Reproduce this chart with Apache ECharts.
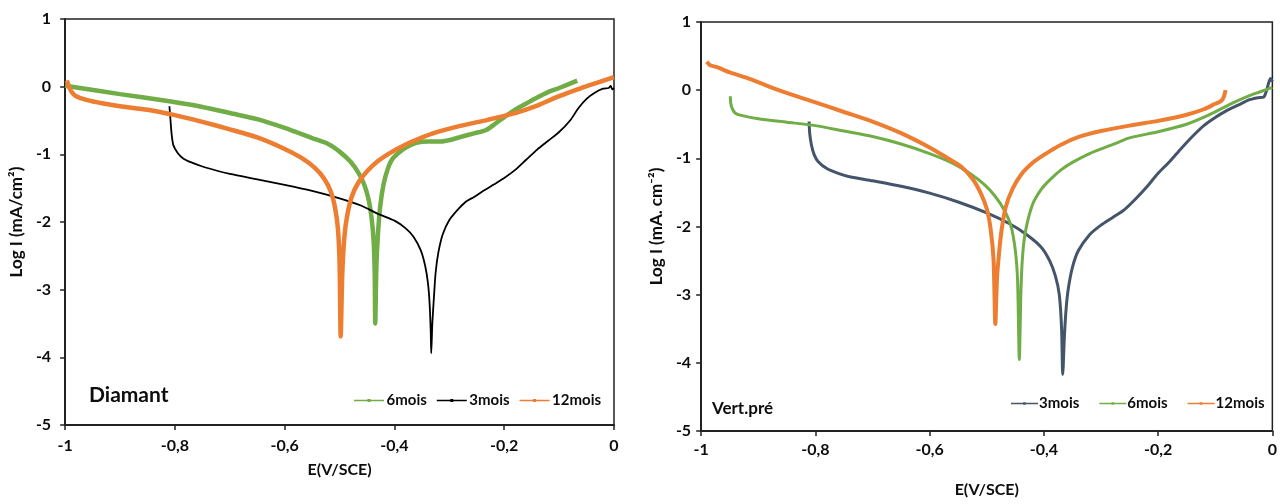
<!DOCTYPE html>
<html>
<head>
<meta charset="utf-8">
<script src="https://cdn.jsdelivr.net/npm/echarts@6/dist/echarts.min.js"></script>
<style>
html,body{margin:0;padding:0;background:#fff;}
#left{position:absolute;left:0;top:0;width:640px;height:504px;}
#right{position:absolute;left:640px;top:0;width:640px;height:504px;}
</style>
</head>
<body>
<div id="left"></div>
<div id="right"></div>
<script>
// ---------- tick labels ----------
const xTicks = [-1, -0.8, -0.6, -0.4, -0.2, 0];
const yTicks = [-5, -4, -3, -2, -1, 0, 1];

// ---------- Diamant (left) ----------
const diamant6moisE = [-1, -0.9, -0.807, -0.75, -0.7, -0.65, -0.6, -0.55, -0.52, -0.5, -0.48, -0.465, -0.455, -0.447, -0.442, -0.438, -0.436, -0.435, -0.433, -0.43, -0.426, -0.42, -0.412, -0.404, -0.39, -0.375, -0.36, -0.34, -0.315, -0.295, -0.278, -0.255, -0.233, -0.215, -0.2, -0.18, -0.16, -0.14, -0.12, -0.1, -0.067];
const diamant6moisLogI = [0.015, -0.11, -0.22, -0.30, -0.39, -0.48, -0.61, -0.76, -0.85, -0.96, -1.11, -1.28, -1.45, -1.67, -1.92, -2.27, -2.76, -3.5, -2.67, -2.17, -1.77, -1.45, -1.21, -1.07, -0.96, -0.88, -0.83, -0.81, -0.81, -0.78, -0.74, -0.69, -0.64, -0.54, -0.45, -0.34, -0.25, -0.16, -0.08, -0.02, 0.09];

const diamant3moisE = [-0.81, -0.808, -0.806, -0.803, -0.795, -0.785, -0.77, -0.75, -0.72, -0.7, -0.65, -0.6, -0.55, -0.5, -0.46, -0.43, -0.4, -0.38, -0.365, -0.352, -0.344, -0.339, -0.336, -0.334, -0.333, -0.331, -0.328, -0.325, -0.32, -0.312, -0.3, -0.285, -0.27, -0.255, -0.24, -0.22, -0.2, -0.18, -0.16, -0.14, -0.12, -0.1, -0.08, -0.065, -0.05, -0.035, -0.02, -0.01, -0.006, -0.003, 0];
const diamant3moisLogI = [-0.29, -0.5, -0.7, -0.86, -0.98, -1.06, -1.12, -1.18, -1.25, -1.29, -1.37, -1.45, -1.54, -1.65, -1.76, -1.88, -1.98, -2.09, -2.22, -2.42, -2.65, -2.9, -3.2, -3.6, -3.94, -3.5, -3.1, -2.75, -2.45, -2.18, -1.97, -1.82, -1.7, -1.63, -1.55, -1.45, -1.35, -1.23, -1.08, -0.93, -0.8, -0.67, -0.5, -0.32, -0.18, -0.09, -0.03, -0.02, 0.01, -0.04, -0.02];

const diamant12moisE = [-0.997, -0.993, -0.988, -0.98, -0.96, -0.93, -0.9, -0.85, -0.8, -0.75, -0.7, -0.65, -0.6, -0.57, -0.545, -0.528, -0.516, -0.508, -0.503, -0.5, -0.498, -0.495, -0.491, -0.486, -0.478, -0.466, -0.45, -0.43, -0.41, -0.39, -0.37, -0.33, -0.28, -0.23, -0.18, -0.14, -0.1, -0.06, -0.03, 0];
const diamant12moisLogI = [0.09, 0.0, -0.08, -0.14, -0.2, -0.25, -0.29, -0.34, -0.42, -0.52, -0.63, -0.75, -0.92, -1.05, -1.2, -1.36, -1.55, -1.8, -2.1, -2.6, -3.69, -2.75, -2.2, -1.9, -1.63, -1.42, -1.25, -1.1, -0.99, -0.9, -0.82, -0.69, -0.58, -0.49, -0.39, -0.28, -0.14, -0.02, 0.06, 0.14];

// ---------- Vert.pré (right) ----------
const vert3moisE = [-0.811, -0.81, -0.807, -0.802, -0.795, -0.78, -0.76, -0.74, -0.7, -0.65, -0.6, -0.55, -0.5, -0.46, -0.43, -0.405, -0.39, -0.38, -0.373, -0.369, -0.367, -0.364, -0.361, -0.357, -0.35, -0.34, -0.32, -0.3, -0.28, -0.26, -0.24, -0.22, -0.2, -0.18, -0.16, -0.14, -0.12, -0.1, -0.08, -0.06, -0.04, -0.025, -0.015, -0.01, -0.006, -0.003, 0];
const vert3moisLogI = [-0.46, -0.63, -0.8, -0.95, -1.05, -1.15, -1.22, -1.27, -1.33, -1.41, -1.51, -1.64, -1.8, -1.96, -2.12, -2.3, -2.5, -2.72, -3.0, -3.5, -4.17, -3.6, -3.2, -2.9, -2.6, -2.36, -2.12, -1.98, -1.87, -1.76, -1.6, -1.42, -1.22, -1.05, -0.86, -0.68, -0.52, -0.4, -0.3, -0.22, -0.14, -0.11, -0.1, 0.0, 0.12, 0.17, 0.13];

const vert6moisE = [-0.949, -0.948, -0.945, -0.94, -0.93, -0.9, -0.85, -0.8, -0.75, -0.7, -0.65, -0.6, -0.56, -0.53, -0.505, -0.485, -0.47, -0.458, -0.45, -0.446, -0.443, -0.44, -0.437, -0.432, -0.42, -0.405, -0.39, -0.37, -0.35, -0.32, -0.28, -0.25, -0.2, -0.15, -0.11, -0.07, -0.04, -0.02, 0];
const vert6moisLogI = [-0.09, -0.2, -0.28, -0.34, -0.37, -0.42, -0.47, -0.52, -0.6, -0.68, -0.79, -0.93, -1.07, -1.22, -1.38, -1.56, -1.75, -1.98, -2.35, -2.8, -3.95, -2.9, -2.4, -2.06, -1.68, -1.46, -1.32, -1.17, -1.06, -0.93, -0.8, -0.7, -0.61, -0.5, -0.36, -0.19, -0.08, -0.02, 0.04];

const vert12moisE = [-0.99, -0.985, -0.97, -0.95, -0.92, -0.88, -0.84, -0.8, -0.75, -0.7, -0.65, -0.6, -0.57, -0.545, -0.525, -0.51, -0.5, -0.493, -0.488, -0.485, -0.482, -0.478, -0.474, -0.467, -0.455, -0.44, -0.42, -0.4, -0.37, -0.34, -0.3, -0.25, -0.2, -0.15, -0.12, -0.1, -0.09, -0.085, -0.082];
const vert12moisLogI = [0.42, 0.37, 0.33, 0.26, 0.18, 0.05, -0.07, -0.18, -0.32, -0.46, -0.63, -0.84, -0.99, -1.12, -1.3, -1.52, -1.74, -2.05, -2.5, -3.43, -2.75, -2.35, -2.05, -1.72, -1.45, -1.24, -1.07, -0.95, -0.8, -0.69, -0.6, -0.52, -0.45, -0.36, -0.28, -0.2, -0.16, -0.1, 0.0];

const GREEN = '#70ad47', ORANGE = '#ed7d31', BLACK = '#000000', SLATE = '#44546a';
const FONT = 'Lato, "Open Sans", sans-serif';
const TXT = '#0d0d0d';
const LEGEND_ICON = 'path://M0,1.2 L30,1.2 L30,2.8 L0,2.8 Z M13.5,0.5 L16.5,0.5 L16.5,3.5 L13.5,3.5 Z M0,0 L0,0.01 Z M30,4 L30,3.99 Z';

function zip(xs, ys) { return xs.map((x, i) => [x, ys[i]]); }
function fmt(v) { const r = Math.round(v * 10) / 10; return String(r).replace('.', ','); }

function makeSeries(name, xs, ys, color, width) {
  return {
    name: name, type: 'line', data: zip(xs, ys),
    showSymbol: false, symbol: 'circle', symbolSize: 4,
    smooth: 0.25, smoothMonotone: 'none',
    lineStyle: { color: color, width: width },
    itemStyle: { color: color },
    emphasis: { disabled: true }, animation: false
  };
}

function baseOption(cfg) {
  return {
    animation: false,
    backgroundColor: '#fff',
    grid: { left: cfg.gl, right: cfg.gr, top: cfg.gt, bottom: cfg.gb, show: true, borderColor: '#222', borderWidth: 1.5, backgroundColor: 'transparent' },
    xAxis: {
      type: 'value', min: xTicks[0], max: xTicks[xTicks.length - 1], interval: 0.2,
      axisLine: { show: true, onZero: false, lineStyle: { color: '#222', width: 2 } },
      axisTick: { show: true, inside: false, length: 5, lineStyle: { color: '#222', width: 1.5 } },
      splitLine: { show: false },
      axisLabel: { formatter: fmt, color: TXT, fontWeight: 'bold', fontSize: 16, fontFamily: FONT, margin: cfg.xm },
      name: 'E(V/SCE)', nameLocation: 'middle', nameGap: cfg.xng,
      nameTextStyle: { color: TXT, fontWeight: 'bold', fontSize: 16, fontFamily: FONT }
    },
    yAxis: {
      type: 'value', min: yTicks[0], max: yTicks[yTicks.length - 1], interval: 1,
      axisLine: { show: true, onZero: false, lineStyle: { color: '#222', width: 2 } },
      axisTick: { show: true, inside: false, length: 5, lineStyle: { color: '#222', width: 1.5 } },
      splitLine: { show: false },
      axisLabel: { color: TXT, fontWeight: 'bold', fontSize: 16, fontFamily: FONT, margin: cfg.ym },
      name: cfg.yname, nameLocation: 'middle', nameGap: cfg.yng, nameRotate: 90,
      nameTextStyle: { color: TXT, fontWeight: 'bold', fontSize: 17, fontFamily: FONT }
    },
    legend: {
      left: cfg.ll, top: cfg.lt, itemWidth: cfg.liw, itemHeight: 4, itemGap: cfg.lg,
      icon: LEGEND_ICON,
      textStyle: { color: TXT, fontWeight: 'bold', fontSize: 15, fontFamily: FONT, padding: [0, 0, 0, -4] },
      data: cfg.legendData
    },
    graphic: [{
      type: 'text', left: cfg.tx, top: cfg.ty,
      style: { text: cfg.title, fill: TXT, fontWeight: 'bold', fontSize: cfg.tfs, fontFamily: FONT }
    }],
    series: cfg.series
  };
}

const leftChart = echarts.init(document.getElementById('left'), null, { renderer: 'canvas' });
leftChart.setOption(baseOption({
  gl: 63, gr: 26, gt: 19, gb: 79, xm: 13, xng: 37, ym: 14, yng: 39,
  yname: 'Log I (mA/cm²)',
  ll: 349, lt: 388, liw: 33, lg: 10,
  legendData: ['6mois', '3mois', '12mois'],
  tx: 89, ty: 385, title: 'Diamant', tfs: 21,
  series: [
    makeSeries('6mois', diamant6moisE, diamant6moisLogI, GREEN, 4.5),
    makeSeries('3mois', diamant3moisE, diamant3moisLogI, BLACK, 1.8),
    makeSeries('12mois', diamant12moisE, diamant12moisLogI, ORANGE, 4.5)
  ]
}));

const rightChart = echarts.init(document.getElementById('right'), null, { renderer: 'canvas' });
rightChart.setOption(baseOption({
  gl: 53, gr: 6, gt: 22, gb: 73, xm: 11, xng: 51, ym: 10, yng: 31,
  yname: 'Log I (mA. cm⁻²)',
  ll: 366, lt: 391, liw: 27, lg: 20,
  legendData: ['3mois', '6mois', '12mois'],
  tx: 72, ty: 400, title: 'Vert.pré', tfs: 17,
  series: [
    makeSeries('3mois', vert3moisE, vert3moisLogI, SLATE, 3),
    makeSeries('6mois', vert6moisE, vert6moisLogI, GREEN, 3),
    makeSeries('12mois', vert12moisE, vert12moisLogI, ORANGE, 4)
  ]
}));
</script>
</body>
</html>
